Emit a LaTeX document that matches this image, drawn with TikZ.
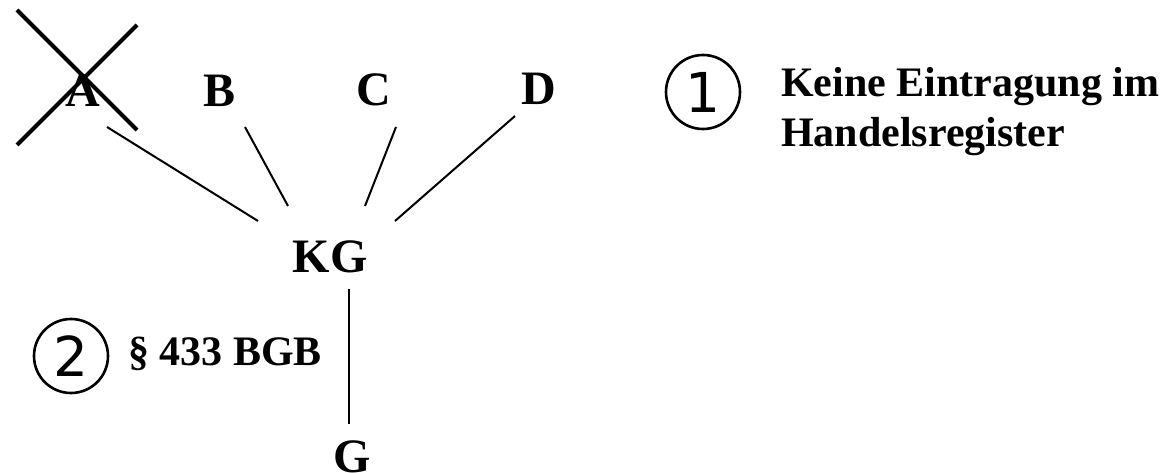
\documentclass[tikz,border=0pt]{standalone}
\usepackage{fontspec}
\setmainfont{Liberation Serif}
\newfontfamily\ringfont{DejaVu Sans}

\begin{document}
\begin{tikzpicture}[x=1pt,y=-1pt,
  party/.style={font=\fontsize{48}{56}\selectfont\bfseries, anchor=base, inner sep=0pt},
  note/.style={font=\fontsize{42}{50}\selectfont\bfseries, inner sep=0pt},
  numring/.style={circle, draw, line width=2.6pt, minimum size=74pt, inner sep=0pt,
    font=\fontsize{55}{55}\selectfont\ringfont},
  tie/.style={line width=2pt},
  strike/.style={line width=4pt}]
\useasboundingbox[fill=white] (0,0) rectangle (1167,473);

% Gesellschafter und Gesellschaft
\node[party] (A) at (83,107) {A};
\node[party] (B) at (220,107) {B};
\node[party] (C) at (374,106) {C};
\node[party] (D) at (539,105) {D};
\node[party] (KG) at (330,272) {KG};
\node[party] (G) at (352,472) {G};

\draw[tie] ([shift={(24,20)}]A.base) -- ([shift={(-72,-51)}]KG.base);
\draw[tie] ([shift={(25,20)}]B.base) -- ([shift={(-42,-66)}]KG.base);
\draw[tie] ([shift={(22,21)}]C.base) -- ([shift={(35,-66)}]KG.base);
\draw[tie] ([shift={(-24,11)}]D.base) -- ([shift={(65,-51)}]KG.base);
\draw[tie] ([shift={(19,17)}]KG.base) -- ([shift={(-3,-48)}]G.base);

% A ist durchgestrichen
\draw[strike] ([shift={(-66,-97)}]A.base) -- ([shift={(54,23)}]A.base);
\draw[strike] ([shift={(-66,38)}]A.base) -- ([shift={(54,-82)}]A.base);

% Anmerkungen
\node[numring] (one) at (703,92) {1};
\node[note, anchor=north west, align=left] (register) at (781,67)
  {Keine Eintragung im\\Handelsregister};
\node[numring] (two) at (71,356) {2};
\node[note, anchor=base west] (bgb) at (128,365) {\S~433 BGB};
\end{tikzpicture}
\end{document}
